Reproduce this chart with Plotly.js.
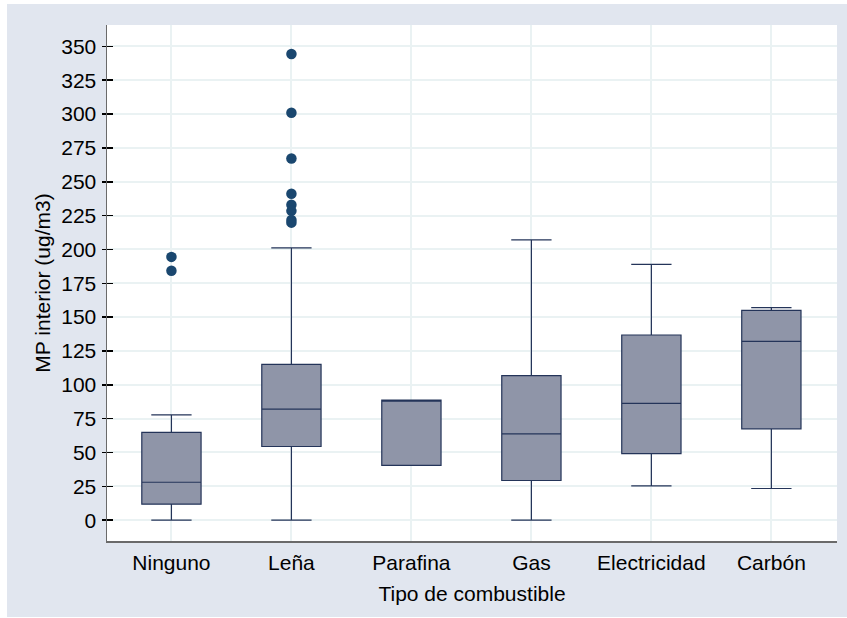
<!DOCTYPE html>
<html>
<head>
<meta charset="utf-8">
<script src="https://cdn.plot.ly/plotly-3.0.1.min.js"></script>
<style>
  html, body { margin: 0; padding: 0; background: #ffffff; }
  #chart { position: absolute; left: 7px; top: 4px; width: 840px; height: 613px; }
</style>
</head>
<body>
<div id="chart"></div>
<script>
// Indoor PM by fuel type: box summaries per category
const categories = ["Ninguno", "Leña", "Parafina", "Gas", "Electricidad", "Carbón"];
const lowerFence = [0, 0, 40.4, 0, 25.3, 23.4];
const q1Values = [11.8, 54.4, 40.4, 29.3, 49.2, 67.5];
const medianValues = [28.0, 82.0, 88.4, 63.8, 86.2, 132.1];
const q3Values = [64.8, 115.1, 88.7, 106.7, 136.8, 155.0];
const upperFence = [77.8, 201.1, 88.7, 207.0, 189.0, 157.0];

// Points beyond the whiskers
const outlierCategory = ["Ninguno", "Ninguno", "Leña", "Leña", "Leña", "Leña", "Leña", "Leña", "Leña", "Leña"];
const outlierValues = [194.5, 184.3, 344.4, 301.0, 267.2, 241.1, 233.1, 228.5, 221.8, 219.8];

const yTicks = [0, 25, 50, 75, 100, 125, 150, 175, 200, 225, 250, 275, 300, 325, 350];

const fontFamily = "'Liberation Sans', Arial, Helvetica, sans-serif";
const fontSize = 21;

const boxes = {
  type: "box",
  x: categories,
  lowerfence: lowerFence,
  q1: q1Values,
  median: medianValues,
  q3: q3Values,
  upperfence: upperFence,
  boxpoints: false,
  width: 0.494,
  whiskerwidth: 0.68,
  fillcolor: "#8f95a8",
  line: { color: "#243459", width: 1.2 },
  hoverinfo: "skip",
  showlegend: false
};

const outliers = {
  type: "scatter",
  mode: "markers",
  x: outlierCategory,
  y: outlierValues,
  marker: { color: "#1a476f", size: 10.5 },
  hoverinfo: "skip",
  showlegend: false
};

// invisible companion trace so the inner tick axis is drawn
const tickHelper = {
  type: "scatter",
  mode: "markers",
  x: [categories[0]],
  y: [yTicks[0]],
  yaxis: "y2",
  marker: { opacity: 0 },
  hoverinfo: "skip",
  showlegend: false
};

const yRange = [-15.4, 365.8];

const layout = {
  width: 840,
  height: 613,
  margin: { l: 100.3, r: 9.7, t: 21.3, b: 76.3 },
  paper_bgcolor: "#e1e6ef",
  plot_bgcolor: "#ffffff",
  font: { family: fontFamily, size: fontSize, color: "#000000" },
  xaxis: {
    type: "category",
    categoryorder: "array",
    categoryarray: categories,
    range: [-0.537, 5.547],
    showgrid: true,
    gridcolor: "#eaf2f3",
    gridwidth: 2,
    showline: true,
    linecolor: "#6a6a6a",
    linewidth: 1.5,
    ticks: "",
    ticklabelstandoff: 2,
    tickfont: { family: fontFamily, size: fontSize, color: "#000000" },
    title: { text: "Tipo de combustible", font: { family: fontFamily, size: fontSize, color: "#000000" }, standoff: 13 },
    fixedrange: true
  },
  yaxis: {
    range: yRange,
    tickvals: yTicks,
    ticktext: yTicks.map(String),
    showgrid: true,
    gridcolor: "#eaf2f3",
    gridwidth: 2,
    zeroline: false,
    showline: true,
    linecolor: "#6a6a6a",
    linewidth: 1.5,
    ticks: "outside",
    ticklen: 4,
    tickwidth: 1.5,
    tickcolor: "#000000",
    ticklabelstandoff: 1,
    tickfont: { family: fontFamily, size: fontSize, color: "#000000" },
    title: { text: "MP interior (ug/m3)", font: { family: fontFamily, size: fontSize, color: "#000000" }, standoff: 5 },
    fixedrange: true
  },
  yaxis2: {
    overlaying: "y",
    side: "left",
    range: yRange,
    tickvals: yTicks,
    showticklabels: false,
    showgrid: false,
    zeroline: false,
    showline: false,
    ticks: "inside",
    ticklen: 6,
    tickwidth: 1.5,
    tickcolor: "#000000",
    fixedrange: true
  }
};

Plotly.newPlot("chart", [boxes, outliers, tickHelper], layout, { displayModeBar: false, staticPlot: true });
</script>
</body>
</html>
